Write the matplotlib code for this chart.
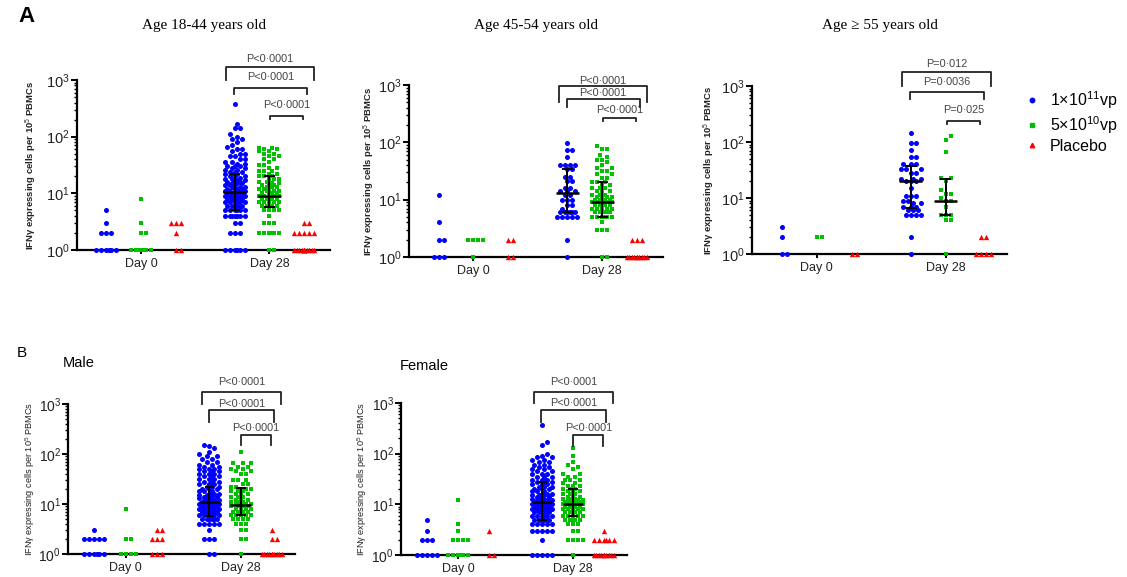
import numpy as np
import matplotlib
matplotlib.use("Agg")
import matplotlib.pyplot as plt
from matplotlib.lines import Line2D
from matplotlib.ticker import LogLocator, NullFormatter
from matplotlib.transforms import blended_transform_factory

plt.rcParams['font.family'] = ['Liberation Sans', 'DejaVu Sans']
plt.rcParams['mathtext.fontset'] = 'custom'
plt.rcParams['mathtext.rm'] = 'Liberation Sans'
plt.rcParams['mathtext.it'] = 'Liberation Sans:italic'
plt.rcParams['mathtext.bf'] = 'Liberation Sans:bold'

# ---------------- data: (value, number of subjects) ----------------
DAYS = ["Day 0", "Day 28"]
SERIES = ["1×10$^{11}$vp", "5×10$^{10}$vp", "Placebo"]

# Age 18-44
A1_D0_BLUE = [(1, 6), (2, 3), (3, 1), (5, 1)]
A1_D0_GREEN = [(1, 7), (2, 2), (3, 1), (8, 1)]
A1_D0_RED = [(1, 2), (2, 1), (3, 3)]
A1_D28_BLUE = [(1, 6), (2, 3), (3, 2), (4, 7), (5, 6), (6, 6), (7, 6), (8, 5), (9, 5), (10, 5),
               (11, 4), (12, 4), (13, 3), (14, 3), (15, 3), (16, 3), (17, 2), (18, 2), (19, 2), (20, 2),
               (22, 3), (24, 3), (26, 2), (28, 2), (30, 3), (33, 2), (36, 2), (40, 2), (45, 2), (50, 2),
               (55, 1), (60, 2), (65, 1), (70, 1), (80, 1), (90, 2), (100, 1), (110, 1), (140, 2),
               (170, 1), (375, 1)]
A1_D28_GREEN = [(1, 2), (2, 6), (3, 3), (4, 1), (5, 4), (6, 5), (7, 5), (8, 5), (9, 4), (10, 4),
                (11, 3), (12, 3), (13, 3), (14, 3), (15, 2), (16, 2), (18, 3), (20, 3), (22, 2), (25, 3),
                (28, 2), (32, 2), (36, 1), (40, 2), (45, 2), (50, 2), (55, 2), (60, 2), (63, 2)]
A1_D28_RED = [(1, 14), (2, 5), (3, 2)]
A1_MEDIAN = [10.5, 9.0]
A1_Q1 = [5.0, 5.8]
A1_Q3 = [22.0, 20.0]

# Age 45-54
A2_D0_BLUE = [(1, 3), (2, 2), (4, 1), (12, 1)]
A2_D0_GREEN = [(1, 1), (2, 4)]
A2_D0_RED = [(1, 2), (2, 2)]
A2_D28_BLUE = [(1, 1), (2, 1), (5, 5), (6, 6), (7, 1), (8, 2), (10, 3), (12, 2), (14, 3), (16, 2),
               (21, 2), (25, 2), (34, 2), (41, 4), (55, 1), (74, 2), (96, 1)]
A2_D28_GREEN = [(1, 2), (3, 3), (4, 1), (5, 6), (6, 6), (7, 5), (8, 5), (9, 5), (10, 4), (11, 4),
                (12, 3), (14, 3), (16, 3), (18, 2), (20, 3), (24, 2), (28, 2), (32, 2), (36, 2), (40, 1),
                (45, 1), (50, 2), (55, 1), (60, 1), (75, 2), (85, 1)]
A2_D28_RED = [(1, 10), (2, 3)]
A2_MEDIAN = [13.0, 9.0]
A2_Q1 = [6.2, 4.9]
A2_Q3 = [34.0, 20.5]

# Age >= 55
A3_D0_BLUE = [(1, 2), (2, 1), (3, 1)]
A3_D0_GREEN = [(2, 2)]
A3_D0_RED = [(1, 2)]
A3_D28_BLUE = [(1, 1), (2, 1), (5, 4), (6, 3), (7, 3), (8, 2), (9, 2), (11, 3), (15, 1), (20, 3),
               (22, 3), (28, 2), (33, 3), (40, 3), (55, 2), (72, 1), (95, 2), (143, 1)]
A3_D28_GREEN = [(1, 1), (4, 2), (5, 3), (7, 1), (9, 2), (10, 1), (12, 2), (14, 1), (20, 1), (23, 2),
                (65, 1), (109, 1), (128, 1)]
A3_D28_RED = [(1, 4), (2, 2)]
A3_MEDIAN = [20.5, 8.8]
A3_Q1 = [6.5, 5.0]
A3_Q3 = [38.0, 21.6]

# Male
B1_D0_BLUE = [(1, 6), (2, 5), (3, 1)]
B1_D0_GREEN = [(1, 4), (2, 2), (8, 1)]
B1_D0_RED = [(1, 3), (2, 3), (3, 2)]
B1_D28_BLUE = [(1, 2), (2, 3), (3, 1), (4, 5), (5, 6), (6, 6), (7, 6), (8, 5), (9, 5), (10, 5),
               (11, 4), (12, 4), (13, 3), (14, 3), (15, 3), (16, 3), (18, 3), (20, 3), (22, 3), (25, 3),
               (28, 3), (32, 3), (36, 3), (40, 3), (45, 3), (50, 3), (55, 2), (60, 2), (70, 2), (80, 2),
               (90, 2), (100, 1), (110, 1), (130, 1), (145, 1), (152, 1)]
B1_D28_GREEN = [(1, 1), (2, 2), (3, 2), (4, 3), (5, 4), (6, 5), (7, 4), (8, 4), (9, 4), (10, 4),
                (11, 3), (12, 3), (14, 3), (16, 3), (18, 3), (20, 3), (22, 2), (25, 2), (30, 3), (40, 2),
                (45, 2), (50, 2), (55, 2), (65, 3), (108, 1)]
B1_D28_RED = [(1, 10), (2, 2), (3, 1)]
B1_MEDIAN = [10.8, 9.5]
B1_Q1 = [5.8, 6.0]
B1_Q3 = [21.6, 20.6]

# Female
B2_D0_BLUE = [(1, 5), (2, 3), (3, 1), (5, 1)]
B2_D0_GREEN = [(1, 6), (2, 4), (3, 1), (4, 1), (12, 1)]
B2_D0_RED = [(1, 2), (3, 1)]
B2_D28_BLUE = [(1, 5), (2, 1), (3, 5), (4, 5), (5, 6), (6, 6), (7, 6), (8, 5), (9, 5), (10, 5),
               (11, 4), (12, 4), (13, 3), (14, 3), (15, 3), (16, 3), (18, 3), (20, 3), (22, 3), (25, 3),
               (28, 3), (30, 3), (35, 3), (40, 3), (45, 2), (50, 2), (55, 2), (60, 2), (70, 2), (75, 2),
               (85, 2), (90, 1), (100, 1), (147, 1), (171, 1), (366, 1)]
B2_D28_GREEN = [(1, 1), (2, 4), (3, 2), (4, 3), (5, 5), (6, 5), (7, 5), (8, 5), (9, 5), (10, 5),
                (11, 4), (12, 4), (13, 3), (14, 3), (16, 3), (18, 3), (20, 3), (23, 3), (26, 2), (30, 3),
                (35, 2), (40, 2), (50, 1), (55, 1), (60, 1), (70, 1), (90, 1), (127, 1)]
B2_D28_RED = [(1, 10), (2, 6), (3, 1)]
B2_MEDIAN = [11.2, 10.0]
B2_Q1 = [5.0, 6.0]
B2_Q3 = [27.0, 20.0]

P_A1 = ["P<0·0001", "P<0·0001", "P<0·0001"]
P_A2 = ["P<0·0001", "P<0·0001", "P<0·0001"]
P_A3 = ["P=0·012", "P=0·0036", "P=0·025"]
P_B1 = ["P<0·0001", "P<0·0001", "P<0·0001"]
P_B2 = ["P<0·0001", "P<0·0001", "P<0·0001"]

# ---------------- style ----------------
COLORS = ["#0000ff", "#00c000", "#ff0000"]
MARKERS = ["o", "s", "^"]
SIZES = [13, 11, 15]
W, H = 1127, 577
DAY_X = [0.0, 3.7]
SER_OFF = [-1.0, 0.0, 1.0]


def expand(pairs):
    out = []
    for v, n in pairs:
        out += [v] * n
    return out


def swarm(ax, xc, values, d=5.0, maxhalf=12.0):
    vals = np.sort(np.asarray(values, float))
    pts = ax.transData.transform(np.column_stack([np.full(len(vals), xc), vals]))
    ys = pts[:, 1]
    pxu = ax.transData.transform((1, 1))[0] - ax.transData.transform((0, 1))[0]
    step = d / 2
    cands = [0.0]
    for k in range(1, int(maxhalf // step) + 1):
        cands += [k * step, -k * step]
    px, py, out = [], [], []
    for y in ys:
        best, best_c, best_s = None, 0.0, -1
        ax_ = np.array(px)
        ay_ = np.array(py)
        for c in cands:
            if len(ax_):
                m = np.abs(ay_ - y) < d
                dist = np.min(np.hypot(ax_[m] - c, ay_[m] - y)) if m.any() else np.inf
            else:
                dist = np.inf
            if dist >= d * 0.999:
                best = c
                break
            if dist > best_s:
                best_s, best_c = dist, c
        if best is None:
            best = best_c
        px.append(best)
        py.append(y)
        out.append(best)
    return xc + np.array(out) / pxu, vals


panels = [
    dict(box=(77, 330, 80, 250), groups=[[A1_D0_BLUE, A1_D0_GREEN, A1_D0_RED], [A1_D28_BLUE, A1_D28_GREEN, A1_D28_RED]],
         med=A1_MEDIAN, q1=A1_Q1, q3=A1_Q3, p=P_A1, bold=True, ylab_px=-38, tick_fs=10.5,
         br=[(1.076, 1.0, 1.124), (0.953, 0.918, 1.018), (0.788, 0.77, 0.853)]),
    dict(box=(409, 663, 85, 257), groups=[[A2_D0_BLUE, A2_D0_GREEN, A2_D0_RED], [A2_D28_BLUE, A2_D28_GREEN, A2_D28_RED]],
         med=A2_MEDIAN, q1=A2_Q1, q3=A2_Q3, p=P_A2, bold=True, ylab_px=-32, tick_fs=10.5,
         br=[(0.994, 0.90, 1.023), (0.919, 0.872, 0.953), (0.808, 0.79, 0.855)]),
    dict(box=(752, 1007, 86, 254), groups=[[A3_D0_BLUE, A3_D0_GREEN, A3_D0_RED], [A3_D28_BLUE, A3_D28_GREEN, A3_D28_RED]],
         med=A3_MEDIAN, q1=A3_Q1, q3=A3_Q3, p=P_A3, bold=True, ylab_px=-35, tick_fs=10.5,
         br=[(1.083, 1.0, 1.13), (0.964, 0.923, 1.024), (0.79, 0.776, 0.857)]),
    dict(box=(68, 295, 404, 554), groups=[[B1_D0_BLUE, B1_D0_GREEN, B1_D0_RED], [B1_D28_BLUE, B1_D28_GREEN, B1_D28_RED]],
         med=B1_MEDIAN, q1=B1_Q1, q3=B1_Q3, p=P_B1, bold=False, ylab_px=-31, tick_fs=10,
         br=[(1.08, 1.0, 1.147), (0.96, 0.88, 1.0), (0.793, 0.727, 0.84)]),
    dict(box=(401, 627, 403, 555), groups=[[B2_D0_BLUE, B2_D0_GREEN, B2_D0_RED], [B2_D28_BLUE, B2_D28_GREEN, B2_D28_RED]],
         med=B2_MEDIAN, q1=B2_Q1, q3=B2_Q3, p=P_B2, bold=False, ylab_px=-32, tick_fs=10,
         br=[(1.07, 1.0, 1.14), (0.955, 0.875, 1.0), (0.79, 0.72, 0.836)]),
]
BR_X = [(2.45, 5.0), (2.68, 4.78), (3.72, 4.68)]

fig = plt.figure(figsize=(W / 100, H / 100), dpi=100)

for p in panels:
    l, r, t, b = p['box']
    ax = fig.add_axes([l / W, 1 - b / H, (r - l) / W, (b - t) / H])
    ax.set_yscale('log')
    ax.set_ylim(1, 1000)
    ax.set_xlim(-1.85, 5.45)
    for s in ['top', 'right']:
        ax.spines[s].set_visible(False)
    for s in ['left', 'bottom']:
        ax.spines[s].set_linewidth(1.6)
    ax.set_yticks([1, 10, 100, 1000])
    ax.set_yticklabels([r'$\mathregular{10^{0}}$', r'$\mathregular{10^{1}}$',
                        r'$\mathregular{10^{2}}$', r'$\mathregular{10^{3}}$'])
    ax.yaxis.set_minor_locator(LogLocator(base=10, subs=range(2, 10)))
    ax.yaxis.set_minor_formatter(NullFormatter())
    ax.tick_params(axis='y', which='major', length=4, width=1.4, pad=1, labelsize=p['tick_fs'],
                   labelcolor='#222222')
    ax.tick_params(axis='y', which='minor', length=2.5, width=1.0)
    ax.set_xticks(DAY_X)
    ax.set_xticklabels(DAYS)
    ax.tick_params(axis='x', length=3, width=1.4, pad=3, labelsize=9, labelcolor='#222222')

    for di, dx in enumerate(DAY_X):
        for si in range(3):
            vals = expand(p['groups'][di][si])
            xs, ys = swarm(ax, dx + SER_OFF[si], vals)
            ax.scatter(xs, ys, s=SIZES[si], marker=MARKERS[si], color=COLORS[si],
                       linewidths=0, clip_on=False, zorder=3)
    # median + IQR for Day 28 vaccine groups
    for si in range(2):
        xc = DAY_X[1] + SER_OFF[si]
        ax.plot([xc - 0.33, xc + 0.33], [p['med'][si]] * 2, color='black', lw=1.8, zorder=4,
                solid_capstyle='butt')
        ax.plot([xc, xc], [p['q1'][si], p['q3'][si]], color='black', lw=1.4, zorder=4)
        for q in (p['q1'][si], p['q3'][si]):
            ax.plot([xc - 0.16, xc + 0.16], [q, q], color='black', lw=1.4, zorder=4,
                    solid_capstyle='butt')
    # significance brackets
    tr = blended_transform_factory(ax.transData, ax.transAxes)
    for (x0, x1), (yh, yl, yt), lab in zip(BR_X, p['br'], p['p']):
        ax.plot([x0, x0, x1, x1], [yl, yh, yh, yl], transform=tr, color='#222222', lw=1.3,
                clip_on=False, zorder=4)
        ax.text((x0 + x1) / 2, yt, lab, transform=tr, ha='center', va='center',
                fontsize=7.8, color='#444444')
    ax.set_ylabel('IFNγ expressing cells per 10$^{5}$ PBMCs', fontsize=6.8 if p['bold'] else 6.6,
                  fontweight='bold' if p['bold'] else 'normal', color='#222222')
    ax.yaxis.set_label_coords(p['ylab_px'] / (r - l), 0.5)

# titles and panel letters
fig.text(18 / W, 1 - 17 / H, "A", fontsize=16, fontweight='bold', ha='left', va='center')
fig.text(17 / W, 1 - 353 / H, "B", fontsize=11, ha='left', va='center')
for txt, xc in [("Age 18-44 years old", 204), ("Age 45-54 years old", 536), ("Age ≥ 55 years old", 880)]:
    fig.text(xc / W, 1 - 25 / H, txt, fontsize=11, family=['Liberation Serif', 'DejaVu Serif'],
             ha='center', va='center')
fig.text(63 / W, 1 - 363 / H, "Male", fontsize=10.5, ha='left', va='center')
fig.text(400 / W, 1 - 366 / H, "Female", fontsize=10.5, ha='left', va='center')

# legend
handles = [Line2D([], [], marker=MARKERS[i], color=COLORS[i], ls='none', markersize=3.2)
           for i in range(3)]
fig.legend(handles, SERIES, loc='upper left', bbox_to_anchor=(1024 / W, 1 - 89 / H),
           frameon=False, fontsize=11.5, handlelength=1.0, handletextpad=0.6,
           labelspacing=0.2, borderpad=0, borderaxespad=0)

fig.savefig("out.png", dpi=100)
